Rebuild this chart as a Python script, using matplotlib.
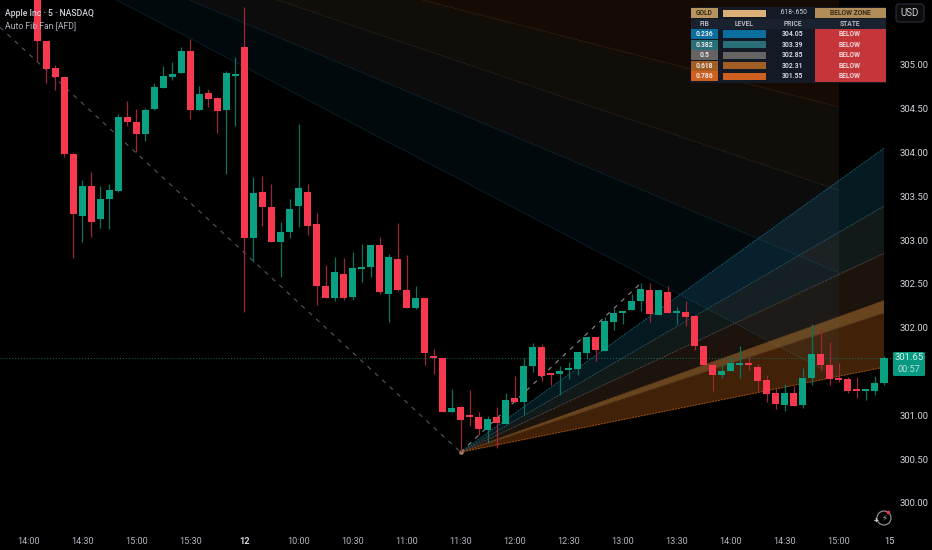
"""AAPL 5m candles with an auto fib fan, table drawn on an overlay axes."""
import matplotlib

matplotlib.use("Agg")
import matplotlib.pyplot as plt
from matplotlib.patches import Circle, FancyBboxPatch, Rectangle

plt.rcParams["font.family"] = ["Roboto", "DejaVu Sans"]

# candles start at bar 1
opens = [305.86, 305.27, 304.97, 304.86, 303.98, 303.28, 303.62, 303.24, 303.47, 303.56,
         304.41, 304.35, 304.21, 304.50, 304.74, 304.86, 304.91, 305.16, 304.49, 304.68,
         304.62, 304.49, 304.87, 305.21, 303.03, 303.55, 303.38, 302.98, 303.09, 303.39,
         303.55, 303.19, 302.48, 302.34, 302.61, 302.35, 302.67, 302.69, 302.94, 302.39,
         302.79, 302.43, 302.23, 302.34, 301.68, 301.65, 301.04, 301.10, 300.99, 300.98,
         300.83, 300.98, 300.90, 301.20, 301.15, 301.56, 301.78, 301.48, 301.47, 301.52,
         301.53, 301.71, 301.90, 301.73, 302.07, 302.17, 302.20, 302.31, 302.43, 302.15,
         302.41, 302.17, 302.18, 302.13, 301.79, 301.58, 301.46, 301.51, 301.58, 301.59,
         301.55, 301.40, 301.26, 301.12, 301.26, 301.12, 301.43, 301.70, 301.58, 301.43,
         301.42, 301.29, 301.28, 301.28, 301.37]
highs = [305.90, 305.27, 305.00, 304.86, 303.99, 303.69, 303.78, 303.62, 303.64, 304.44,
         304.59, 304.50, 304.51, 304.79, 304.99, 305.03, 305.21, 305.30, 304.76, 304.73,
         304.63, 304.93, 305.09, 305.66, 303.72, 303.73, 303.64, 303.21, 303.47, 304.33,
         303.64, 303.31, 302.72, 302.81, 302.80, 302.87, 302.96, 302.94, 303.04, 302.84,
         303.20, 302.83, 302.48, 302.34, 301.76, 301.65, 301.30, 301.11, 301.29, 301.04,
         300.99, 301.10, 301.26, 301.45, 301.65, 301.83, 301.81, 301.48, 301.56, 301.61,
         301.72, 301.90, 301.90, 302.12, 302.23, 302.19, 302.39, 302.51, 302.51, 302.43,
         302.48, 302.24, 302.31, 302.13, 301.79, 301.62, 301.58, 301.67, 301.79, 301.67,
         301.59, 301.46, 301.31, 301.36, 301.34, 301.54, 302.04, 301.99, 301.84, 301.60,
         301.44, 301.44, 301.30, 301.45, 301.68]
lows = [305.05, 304.79, 304.71, 303.95, 302.80, 302.98, 303.04, 303.14, 303.13, 303.55,
        304.30, 304.01, 304.13, 304.49, 304.74, 304.83, 304.91, 304.38, 304.49, 304.52,
        304.22, 303.76, 304.30, 302.18, 302.75, 303.16, 302.98, 302.58, 303.03, 303.15,
        303.06, 302.26, 302.34, 302.31, 302.32, 302.32, 302.52, 302.58, 302.39, 302.07,
        302.42, 302.23, 302.21, 301.58, 301.47, 301.04, 301.04, 300.58, 300.88, 300.78,
        300.69, 300.63, 300.90, 301.15, 301.00, 301.49, 301.39, 301.35, 301.23, 301.42,
        301.46, 301.64, 301.62, 301.73, 301.97, 302.04, 302.20, 302.19, 302.07, 302.15,
        302.17, 302.04, 302.02, 301.75, 301.55, 301.28, 301.43, 301.51, 301.43, 301.52,
        301.27, 301.15, 301.07, 301.05, 301.11, 301.08, 301.35, 301.51, 301.35, 301.38,
        301.26, 301.20, 301.18, 301.23, 301.35]
closes = [305.27, 304.95, 304.86, 303.98, 303.30, 303.62, 303.21, 303.47, 303.57, 304.41,
          304.35, 304.21, 304.49, 304.75, 304.87, 304.90, 305.16, 304.49, 304.67, 304.61,
          304.47, 304.91, 304.90, 303.03, 303.54, 303.38, 302.98, 303.09, 303.36, 303.60,
          303.16, 302.48, 302.34, 302.64, 302.34, 302.68, 302.69, 302.94, 302.41, 302.81,
          302.43, 302.23, 302.34, 301.71, 301.65, 301.04, 301.08, 300.95, 300.98, 300.85,
          300.96, 300.91, 301.18, 301.15, 301.56, 301.78, 301.45, 301.46, 301.51, 301.54,
          301.72, 301.90, 301.75, 302.08, 302.17, 302.19, 302.31, 302.44, 302.16, 302.43,
          302.17, 302.18, 302.12, 301.79, 301.58, 301.46, 301.51, 301.60, 301.59, 301.58,
          301.39, 301.24, 301.13, 301.26, 301.11, 301.43, 301.70, 301.58, 301.42, 301.40,
          301.28, 301.28, 301.29, 301.37, 301.65]

time_ticks = [0, 6, 12, 18, 24, 30, 36, 42, 48, 54, 60, 66, 72, 78, 84, 90, 95.6]
time_labels = ["14:00", "14:30", "15:00", "15:30", "12", "10:00", "10:30", "11:00", "11:30",
               "12:00", "12:30", "13:00", "13:30", "14:00", "14:30", "15:00", "15"]
# 301.50 sits under the last price tag
price_ticks = [300.0, 300.5, 301.0, 302.0, 302.5, 303.0, 303.5, 304.0, 304.5, 305.0]
last_price = 301.65

# fan going up from the swing low, right-hand end prices from the table
up_start = (48, 300.58)
up_end_bar = 95
up_levels = [304.05, 303.39, 302.85, 302.31, 302.17, 301.55]
up_line_colors = ["#125a6a", "#2c5056", "#4a4744", "#6a4420", "#5e3c1c", "#a8520f"]
up_fill_colors = ["#1c7fa8", "#5f7f82", "#8a6040", "#d08a3c", "#c8681c"]
up_fill_alpha = [0.20, 0.20, 0.20, 0.50, 0.33]

# fan coming down from the old high, mostly off chart
down_start = (-23.1, 307.51)
down_end_bar = 90
down_levels = [301.43, 302.63, 303.57, 304.52, 305.90]
down_line_colors = ["#0f3340", "#0f3340", "#33291f", "#402610"]
down_fill_colors = ["#1c7fa8", "#8a9090", "#b08a60", "#d06c14"]
down_fill_alpha = [0.08, 0.09, 0.10, 0.11]

swing_high = (-3.14, 305.43)
swing_low = (48, 300.58)
swing_top = (68, 302.51)

# table
table_head = ["FIB", "LEVEL", "PRICE", "STATE"]
table_fib = ["0.236", "0.382", "0.5", "0.618", "0.786"]
table_price = ["304.05", "303.39", "302.85", "302.31", "301.55"]
table_colors = ["#0a6f9e", "#2a6f78", "#666462", "#a35e25", "#cf6020"]

GREEN = "#0aa082"
RED = "#f7394f"
TEXT = "#d1d4dc"

fig = plt.figure(figsize=(9.32, 5.5), dpi=100, facecolor="black")
ax = fig.add_axes([0, 23 / 550, 893 / 932, 527 / 550], facecolor="black")
ax.set_xlim(-3.142, 96.0)
ax.set_ylim(299.726, 305.742)

# down fan
for i in range(4):
    ax.fill([down_start[0], down_end_bar, down_end_bar],
            [down_start[1], down_levels[i], down_levels[i + 1]],
            color=down_fill_colors[i], alpha=down_fill_alpha[i], lw=0, zorder=1)
    ax.plot([down_start[0], down_end_bar], [down_start[1], down_levels[i]],
            color=down_line_colors[i], lw=0.6, ls=(0, (1.5, 1)), zorder=2)

# up fan
for i in range(5):
    ax.fill([up_start[0], up_end_bar, up_end_bar],
            [up_start[1], up_levels[i], up_levels[i + 1]],
            color=up_fill_colors[i], alpha=up_fill_alpha[i], lw=0, zorder=2)
for lev, col in zip(up_levels, up_line_colors):
    ax.plot([up_start[0], up_end_bar], [up_start[1], lev], color=col, lw=0.7,
            ls=(0, (2, 1)), zorder=3)

# swing lines
ax.plot([swing_high[0], swing_low[0]], [swing_high[1], swing_low[1]], color="#55585e",
        lw=0.8, ls=(0, (4, 5)), zorder=3)
ax.plot([swing_low[0], swing_top[0]], [swing_low[1], swing_top[1]], color="#8a8d94",
        lw=0.8, ls=(0, (4, 5)), zorder=3)
ax.plot(swing_low[0], swing_low[1], "o", ms=2.2, color="#b08a60", zorder=4)

ax.axhline(last_price, color="#0d6f60", lw=0.7, ls=(0, (1, 2)), zorder=3)

# candles
bars = list(range(1, len(opens) + 1))
for b, o, h, l, c in zip(bars, opens, highs, lows, closes):
    up = c >= o
    ax.vlines(b, l, h, color="#0b7060" if up else "#9c2637", lw=0.9, zorder=5)
    ax.bar(b, max(abs(c - o), 0.02), bottom=min(o, c), width=0.78,
           color=GREEN if up else RED, lw=0, zorder=6)

ax.yaxis.tick_right()
ax.set_yticks(price_ticks, [f"{p:.2f}" for p in price_ticks])
ax.set_xticks(time_ticks, time_labels)
ax.tick_params(axis="y", length=0, pad=5, labelsize=6.8, labelcolor=TEXT)
ax.tick_params(axis="x", length=0, pad=7, labelsize=6.6, labelcolor="#b2b5be")
ax.get_xticklabels()[4].set_fontweight("bold")
ax.get_xticklabels()[4].set_color(TEXT)
ax.get_xticklabels()[-1].set_color(TEXT)
for side in ax.spines.values():
    side.set_visible(False)

# overlay in pixels for table, legend text and tags
ov = fig.add_axes([0, 0, 1, 1], facecolor="none")
ov.set_xlim(0, 932)
ov.set_ylim(550, 0)
ov.axis("off")

ov.text(5, 13, "Apple Inc · 5 · NASDAQ", color=TEXT, fontsize=6.2, va="center", fontweight="medium")
ov.text(5, 26, "Auto Fib Fan [AFD]", color="#b2b5be", fontsize=6.2, va="center")


def box(x0, y0, x1, y1, color, edge="none"):
    ov.add_patch(Rectangle((x0, y0), x1 - x0, y1 - y0, fc=color, ec=edge, lw=0.6))


def label(x, y, s, color=TEXT, size=4.9, weight="bold"):
    ov.text(x, y, s, color=color, fontsize=size, ha="center", va="center", fontweight=weight)


box(691, 7, 886, 83, "#131a26")
box(691, 8, 718, 18, "#b8945f")
label(704.5, 13, "GOLD", "#3a2c16")
box(723, 9.5, 766, 17, "#dcae78")
label(793, 13, ".618-.650", TEXT, weight="normal")
box(815, 8, 886, 18, "#b08c58")
label(850, 13, "BELOW ZONE", "#3a2c16")
box(691, 19, 886, 28.5, "#1a2230")
for x, s in zip([704.5, 744, 793, 850], table_head):
    label(x, 24, s, "#b2b5be")
box(815, 29, 886, 81.5, "#c5363b")
for i in range(5):
    y = 34 + 10.55 * i
    box(691, y - 5, 718, y + 5, table_colors[i])
    label(704.5, y, table_fib[i], "#e8e8e8")
    box(723, y - 3.6, 766, y + 3.6, table_colors[i])
    label(793, y, table_price[i], TEXT)
    label(850, y, "BELOW", "#f0d8d8")

# currency button
ov.add_patch(FancyBboxPatch((896, 4), 28, 18, boxstyle="round,pad=0,rounding_size=3",
                            fc="#0c0c0c", ec="#2a2e39", lw=0.8))
label(910, 13, "USD", TEXT, size=7.0, weight="normal")

# last price tag
ov.add_patch(FancyBboxPatch((893, 352), 32, 24, boxstyle="round,pad=0,rounding_size=1.5",
                            fc="#089981", ec="none"))
ov.text(909, 358, f"{last_price:.2f}", color="#d8efe9", fontsize=6.8, ha="center", va="center")
ov.text(909, 369.5, "00:57", color="#b5e0d6", fontsize=6.6, ha="center", va="center")

# little replay icon bottom right
ov.add_patch(Circle((884, 518), 7, fc="none", ec="#8a8d94", lw=0.9))
ov.text(884, 518, "⚡", color="#b2b5be", fontsize=6, ha="center", va="center", family="DejaVu Sans")
ov.add_patch(Circle((888.5, 512.5), 1.8, fc="#f23645", ec="none"))
ov.text(876.5, 521, "+", color=TEXT, fontsize=6, ha="center", va="center", fontweight="bold")

fig.savefig("out.png", dpi=100, facecolor="black")
